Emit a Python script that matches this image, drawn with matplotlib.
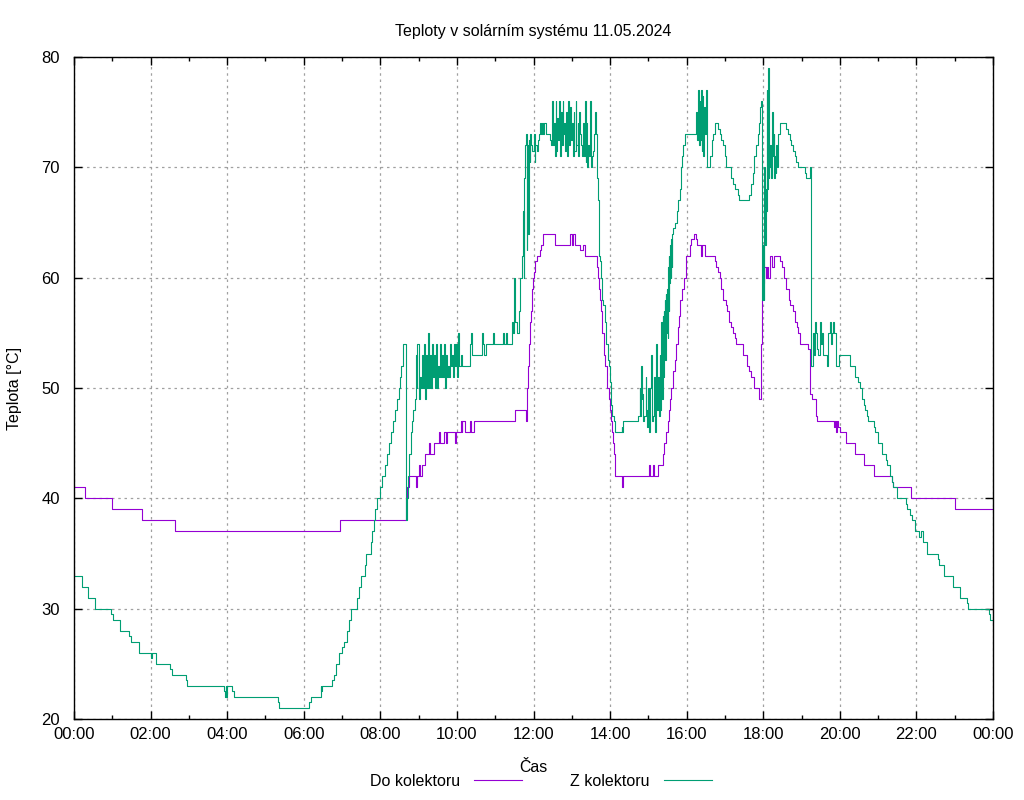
import matplotlib
matplotlib.use("Agg")
import matplotlib.pyplot as plt
from matplotlib.lines import Line2D
from matplotlib.ticker import MultipleLocator, FixedLocator

plt.rcParams['font.family'] = ['Liberation Sans', 'DejaVu Sans']

title = "Teploty v solárním systému 11.05.2024"
xlabel = "Čas"
ylabel = "Teplota [°C]"
series_names = ["Do kolektoru", "Z kolektoru"]
xtick_labels = ["00:00", "02:00", "04:00", "06:00", "08:00", "10:00", "12:00",
                "14:00", "16:00", "18:00", "20:00", "22:00", "00:00"]

# Do kolektoru (hours, degC), step data
do_t = [0.00, 0.30, 1.00, 1.78, 2.63, 6.94, 8.66, 8.70, 8.76, 8.92, 8.95, 9.01, 9.04, 9.10,
        9.17, 9.27, 9.30, 9.40, 9.54, 9.56, 9.66, 9.71, 9.75, 9.95, 9.98, 10.10, 10.12, 10.14,
        10.21, 10.34, 10.38, 10.45, 11.52, 11.80, 11.82, 11.84, 11.86, 11.88, 11.90, 11.93,
        11.95, 11.97, 11.99, 12.02, 12.05, 12.09, 12.17, 12.20, 12.24, 12.55, 12.96, 13.00,
        13.04, 13.09, 13.22, 13.28, 13.34, 13.67, 13.69, 13.71, 13.73, 13.76, 13.78, 13.80,
        13.83, 13.85, 13.88, 13.91, 13.93, 13.96, 13.99, 14.02, 14.05, 14.07, 14.10, 14.12,
        14.14, 14.31, 14.34, 15.02, 15.04, 15.12, 15.15, 15.25, 15.38, 15.40, 15.47, 15.50,
        15.53, 15.57, 15.60, 15.64, 15.69, 15.73, 15.77, 15.80, 15.83, 15.88, 15.92, 15.97,
        15.99, 16.08, 16.12, 16.18, 16.25, 16.27, 16.37, 16.40, 16.47, 16.73, 16.77, 16.82,
        16.86, 16.90, 16.95, 17.03, 17.06, 17.10, 17.17, 17.21, 17.25, 17.30, 17.47, 17.58,
        17.64, 17.67, 17.75, 17.88, 17.90, 17.93, 17.95, 17.97, 17.99, 18.01, 18.03, 18.06,
        18.10, 18.13, 18.17, 18.23, 18.28, 18.43, 18.49, 18.54, 18.60, 18.66, 18.69, 18.77,
        18.83, 18.88, 18.91, 18.97, 19.17, 19.21, 19.23, 19.28, 19.37, 19.41, 19.85, 19.88,
        19.90, 19.92, 19.94, 20.00, 20.17, 20.39, 20.64, 20.89, 21.35, 21.38, 21.86, 23.00,
        24.00]
do_v = [41, 40, 39, 38, 37, 38, 40, 41, 42, 41, 42, 43, 42, 43,
        44, 45, 44, 45, 46, 45, 46, 45, 46, 45, 46, 47, 46, 47,
        46, 47, 46, 47, 48, 47, 48, 50, 52, 54, 56, 57,
        58, 59, 60, 60.5, 61.5, 62, 62.5, 63, 64, 63, 64, 63,
        64, 63, 62.5, 63, 62, 61, 60, 59, 58, 57, 56, 55,
        54, 53, 52, 51, 50, 49, 48, 47, 46, 45, 44, 43,
        42, 41, 42, 43, 42, 43, 42, 43, 44, 45, 46, 47,
        48, 49, 50, 51.5, 52.5, 54, 55.5, 56.5, 58, 59, 60, 61,
        62, 63, 63.5, 64, 63.5, 63, 62, 63, 62, 61.5, 61, 60.5,
        60, 59, 58, 57.5, 57, 56, 55.5, 55, 54.5, 54, 53, 52,
        51.5, 51, 50, 49.5, 49, 49.5, 54, 58, 59.5, 60, 61, 60,
        61, 60, 62, 61, 62, 61.5, 61, 60, 59, 58, 57.5, 57,
        56, 55.5, 55, 54, 53.5, 53, 49.5, 49, 47.5, 47, 46.5, 47,
        46, 47, 46.5, 46, 45, 44, 43, 42, 41.5, 41, 40, 39,
        39]

# Z kolektoru (hours, degC), step data
z_t = [0.00, 0.22, 0.37, 0.54, 0.97, 1.01, 1.19, 1.44, 1.48, 1.70, 2.02, 2.05, 2.15, 2.52,
       2.55, 2.92, 2.94, 3.92, 3.94, 3.96, 3.98, 4.00, 4.13, 4.18, 5.33, 5.35, 6.14, 6.18,
       6.44, 6.46, 6.48, 6.74, 6.79, 6.85, 6.92, 7.01, 7.05, 7.12, 7.18, 7.24, 7.38, 7.44,
       7.50, 7.59, 7.63, 7.75, 7.79, 7.83, 7.87, 7.92, 8.00, 8.04, 8.11, 8.17, 8.23, 8.29,
       8.33, 8.37, 8.44, 8.49, 8.52, 8.55, 8.58, 8.60, 8.66, 8.70, 8.73, 8.76, 8.79, 8.83,
       8.86, 8.90, 8.93, 8.95, 8.97, 9.00, 9.03, 9.06, 9.09, 9.11, 9.14, 9.17, 9.19, 9.22,
       9.25, 9.28, 9.31, 9.33, 9.36, 9.38, 9.41, 9.44, 9.46, 9.49, 9.51, 9.54, 9.57, 9.59,
       9.62, 9.64, 9.67, 9.70, 9.72, 9.75, 9.78, 9.80, 9.83, 9.85, 9.88, 9.91, 9.93, 9.96,
       9.98, 10.01, 10.04, 10.06, 10.10, 10.13, 10.34, 10.37, 10.39, 10.65, 10.67, 10.72,
       10.76, 10.93, 10.97, 11.21, 11.24, 11.28, 11.32, 11.43, 11.47, 11.50, 11.52, 11.58,
       11.62, 11.66, 11.70, 11.72, 11.74, 11.75, 11.79, 11.81, 11.82, 11.83, 11.85, 11.88,
       11.90, 11.91, 11.94, 11.96, 12.00, 12.03, 12.05, 12.08, 12.11, 12.14, 12.18, 12.20,
       12.22, 12.25, 12.27, 12.33, 12.42, 12.46, 12.49, 12.51, 12.53, 12.55, 12.58, 12.60,
       12.62, 12.65, 12.67, 12.69, 12.71, 12.74, 12.76, 12.78, 12.80, 12.83, 12.85, 12.88,
       12.90, 12.92, 12.95, 12.97, 13.00, 13.02, 13.05, 13.07, 13.10, 13.12, 13.15, 13.17,
       13.20, 13.22, 13.25, 13.27, 13.29, 13.31, 13.34, 13.36, 13.38, 13.40, 13.43, 13.45,
       13.47, 13.49, 13.51, 13.53, 13.55, 13.58, 13.60, 13.62, 13.65, 13.68, 13.70, 13.73,
       13.77, 13.80, 13.82, 13.86, 13.89, 13.90, 13.95, 13.97, 13.99, 14.02, 14.03, 14.06,
       14.10, 14.14, 14.31, 14.32, 14.34, 14.73, 14.77, 14.79, 14.82, 14.83, 14.84, 14.86,
       14.88, 14.93, 14.95, 14.97, 14.99, 15.02, 15.05, 15.08, 15.10, 15.12, 15.15, 15.17,
       15.19, 15.21, 15.23, 15.25, 15.27, 15.30, 15.31, 15.32, 15.35, 15.37, 15.38, 15.40,
       15.42, 15.43, 15.44, 15.45, 15.47, 15.49, 15.50, 15.51, 15.53, 15.54, 15.55, 15.56,
       15.58, 15.60, 15.62, 15.63, 15.64, 15.69, 15.74, 15.78, 15.82, 15.86, 15.88, 15.90,
       15.95, 16.25, 16.27, 16.30, 16.32, 16.34, 16.36, 16.37, 16.39, 16.41, 16.43, 16.44,
       16.47, 16.50, 16.52, 16.53, 16.62, 16.65, 16.69, 16.73, 16.82, 16.86, 16.90, 16.95,
       16.99, 17.03, 17.17, 17.21, 17.25, 17.34, 17.37, 17.64, 17.69, 17.73, 17.77, 17.82,
       17.86, 17.89, 17.92, 17.95, 17.96, 17.99, 18.01, 18.02, 18.04, 18.06, 18.08, 18.10,
       18.11, 18.12, 18.14, 18.15, 18.17, 18.18, 18.21, 18.23, 18.25, 18.27, 18.29, 18.30,
       18.32, 18.34, 18.36, 18.38, 18.43, 18.60, 18.64, 18.69, 18.73, 18.77, 18.82, 18.86,
       18.90, 19.08, 19.12, 19.23, 19.25, 19.26, 19.30, 19.33, 19.35, 19.37, 19.41, 19.43,
       19.48, 19.50, 19.53, 19.56, 19.67, 19.70, 19.74, 19.76, 19.80, 19.83, 19.85, 19.90,
       19.98, 20.26, 20.39, 20.48, 20.52, 20.57, 20.59, 20.63, 20.66, 20.70, 20.74, 20.89,
       20.92, 21.00, 21.09, 21.21, 21.24, 21.31, 21.35, 21.40, 21.50, 21.73, 21.76, 21.83,
       21.88, 21.97, 22.08, 22.11, 22.17, 22.27, 22.56, 22.60, 22.71, 22.95, 23.13, 23.32,
       23.34, 23.89, 23.91, 24.00]
z_v = [33, 32, 31, 30, 29.5, 29, 28, 27.5, 27, 26, 25.5, 26, 25, 24.5,
       24, 23.5, 23, 22.5, 22, 23, 22, 23, 22.5, 22, 21.5, 21, 21.5, 22,
       23, 22.5, 23, 23.5, 24, 25, 26, 26.5, 27, 28, 29, 30, 31, 32,
       33, 34, 35, 36, 37, 38, 39, 40, 41, 42, 43, 44, 45, 46,
       47, 48, 49, 50, 51, 52, 53, 54, 38, 40, 42, 44, 46, 47,
       48, 49, 53, 50, 54, 49, 51, 50, 53, 50, 54, 49, 53, 50,
       55, 50, 53, 50, 54, 51, 53, 50, 54, 50, 52, 51, 54, 51,
       53, 51, 54, 50, 53, 51, 52, 51, 54, 52, 53, 51, 54, 52,
       54, 51, 55, 52, 53, 52, 54, 55, 53, 55, 54, 53,
       54, 55, 54, 55, 54, 55, 54, 56, 55, 60, 56, 55,
       57, 60, 62, 66, 60, 69, 72, 73, 62.5, 72, 64, 72.5,
       70.5, 73, 72, 71.5, 73, 70.5, 72, 71.5, 72.5, 73, 74, 73,
       74, 73, 74, 73, 72.5, 72, 76, 72, 74, 71, 76, 71.5,
       74.5, 72.5, 76, 71, 75, 72, 76, 73, 74, 71.5, 75, 71,
       76, 72, 75.5, 72.5, 74, 71, 75, 71.5, 76, 72, 74, 71,
       75, 73, 72, 71, 74, 71, 76, 70.5, 74, 70, 72, 71,
       76, 70.5, 70, 71, 71.5, 73, 75, 73, 69, 67, 62, 61.5,
       60, 58, 57.5, 56, 55, 54, 52.5, 52, 50.5, 49.5, 48.5, 47.5,
       47, 46, 46.5, 46, 47, 47.5, 50, 47.5, 52, 49, 49.5, 47,
       47.5, 51, 48, 46.5, 50, 46, 50, 53, 47, 47.5, 51, 46,
       51, 54, 48, 51, 47.5, 53, 48, 56, 49, 56.5, 51, 57,
       54.5, 58, 52.5, 58.5, 55, 59, 54.5, 61, 57, 62, 59.5, 63,
       60, 63.5, 61, 64, 64.5, 65, 66, 67, 68, 70, 71, 72,
       73, 75, 72.5, 77, 72, 76, 72.5, 77, 71.5, 76.5, 71, 75.5,
       73, 77, 74.5, 70, 71, 72.5, 73, 74, 73.5, 73, 72.5, 72,
       71, 70, 69, 68.5, 68, 67.5, 67, 67.5, 68.5, 69.5, 71, 72,
       73, 74, 75.5, 76, 58, 63, 58, 70, 63, 68, 66, 77,
       68, 79, 69, 70, 71, 72, 69, 75, 71, 73, 69, 71,
       69.5, 72, 70, 73, 74, 73.5, 73, 72.5, 72, 71.5, 71, 70.5,
       70, 69.5, 69, 70, 56.5, 52, 55, 53, 56, 55, 53.5, 53,
       56, 54, 55, 53, 52, 55, 56, 54, 55, 56, 55, 52,
       53, 52, 51, 50.5, 50, 49.5, 49, 48.5, 48, 47.5, 47, 46.5,
       46, 45, 44, 43.5, 43, 42, 41.5, 41, 40, 39.5, 39, 38.5,
       38, 37, 36.5, 37, 36, 35, 34.5, 34, 33, 32, 31, 30.5,
       30, 29.5, 29, 29]

do_color = "#9400D3"
z_color = "#009E73"

fig = plt.figure(figsize=(10.24, 8.0), dpi=100)
ax = fig.add_axes([74 / 1024, 81 / 800, 919 / 1024, 662 / 800])

ax.plot(do_t, do_v, drawstyle="steps-post", color=do_color, lw=0.8)
ax.plot(z_t, z_v, drawstyle="steps-post", color=z_color, lw=0.8)

ax.set_xlim(0, 24)
ax.set_ylim(20, 80)
ax.xaxis.set_major_locator(FixedLocator(list(range(0, 25, 2))))
ax.set_xticklabels(xtick_labels)
ax.xaxis.set_minor_locator(MultipleLocator(1))
ax.yaxis.set_major_locator(MultipleLocator(10))

ax.tick_params(axis="both", which="both", direction="in", top=True, right=True,
               labelsize=12, width=1.0, colors="black")
ax.tick_params(axis="x", which="major", length=6, pad=6)
ax.tick_params(axis="y", which="major", length=6, pad=10)
ax.tick_params(axis="both", which="minor", length=3)
for s in ax.spines.values():
    s.set_linewidth(1.0)

ax.grid(True, which="major", color="#a0a0a0", linestyle=(0, (2, 3)), linewidth=0.9)

ax.set_title(title, fontsize=11.5, pad=15)
ax.set_xlabel(xlabel, fontsize=11.5, labelpad=13)
ax.set_ylabel(ylabel, fontsize=11.5, labelpad=14)

handles = [Line2D([], [], color=do_color, lw=0.8), Line2D([], [], color=z_color, lw=0.8)]
fig.legend(handles, series_names, loc="center", bbox_to_anchor=(541 / 1024, 1 - 781 / 800),
           ncol=2, frameon=False, markerfirst=False, fontsize=11.5, handlelength=3.0,
           handletextpad=0.9, columnspacing=3.0)

fig.savefig("out.png", dpi=100)
